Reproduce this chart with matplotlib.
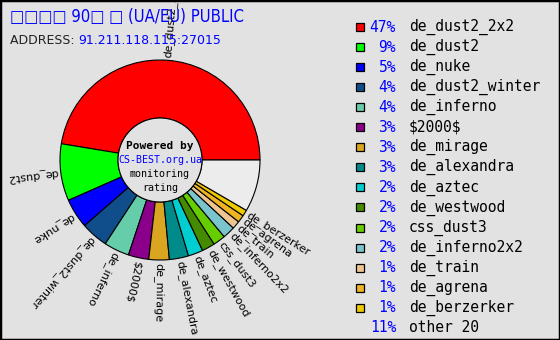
import matplotlib
matplotlib.use("Agg")
import numpy as np
import matplotlib.pyplot as plt
from matplotlib.patches import Circle, Rectangle

# map names, shown percent (floored) and the real share used for the wedges
maps = ["de_dust2_2x2", "de_dust2", "de_nuke", "de_dust2_winter", "de_inferno",
        "$2000$", "de_mirage", "de_alexandra", "de_aztec", "de_westwood",
        "css_dust3", "de_inferno2x2", "de_train", "de_agrena", "de_berzerker",
        "other 20"]
pct_labels = ["47%", "9%", "5%", "4%", "4%", "3%", "3%", "3%", "2%", "2%",
              "2%", "2%", "1%", "1%", "1%", "11%"]
shares = [47.4, 9.2, 4.8, 4.4, 4.1, 3.3, 3.3, 3.1, 2.4, 2.1,
          2.0, 2.0, 1.3, 1.2, 1.0, 8.4]
colors = ["#ff0000", "#00ff00", "#0000ff", "#104e8b", "#66cdaa",
          "#8b008b", "#daa520", "#008b8b", "#00ced1", "#458b00",
          "#66cd00", "#7ac5cd", "#eec591", "#eeb422", "#eec900",
          "#ececec"]

title = "\u25a1\u25a1\u25a1\u25a1 90\u25a1 \u25a1 (UA/EU) PUBLIC"
address = "91.211.118.115:27015"

bg = "#e2e2e2"
fig = plt.figure(figsize=(5.6, 3.4), dpi=100, facecolor=bg)
ax = fig.add_axes([0, 0, 1, 1])
ax.set_facecolor(bg)

cx, cy, r_out, r_in = 160, 160, 100, 42

wedges, _ = ax.pie(shares, colors=colors, startangle=0, counterclock=False,
                   radius=r_out, center=(cx, cy), frame=True,
                   wedgeprops=dict(width=r_out - r_in, edgecolor="black", linewidth=0.8))
ax.add_patch(Circle((cx, cy), r_in, facecolor=bg, edgecolor="black", lw=0.8, zorder=5))

ax.set_xlim(0, 560)
ax.set_ylim(340, 0)
ax.set_aspect("auto")
ax.axis("off")

# radial labels (y axis is inverted, so visual angle = -data angle)
for w, name in zip(wedges[:-1], maps[:-1]):
    mid = (w.theta1 + w.theta2) / 2
    x = cx + (r_out + 3) * np.cos(np.radians(mid))
    y = cy + (r_out + 3) * np.sin(np.radians(mid))
    ax.text(x, y, name, rotation=-mid, rotation_mode="anchor", ha="left", va="center",
            fontsize=8, family="DejaVu Sans", color="black", clip_on=False,
            parse_math=False)

# center text
ax.text(cx, 146, "Powered by", ha="center", va="center", fontsize=8,
        family="DejaVu Sans Mono", fontweight="bold", zorder=6)
ax.text(cx, 160, "CS-BEST.org.ua", ha="center", va="center", fontsize=7.2,
        family="DejaVu Sans Mono", color="#0000ff", zorder=6)
ax.text(cx, 174, "monitoring", ha="center", va="center", fontsize=7.2,
        family="DejaVu Sans Mono", zorder=6)
ax.text(cx, 188, "rating", ha="center", va="center", fontsize=7.2,
        family="DejaVu Sans Mono", zorder=6)

# header
ax.text(10, 17, title, ha="left", va="center", fontsize=12, color="#0000ff",
        family=["DejaVu Sans", "DejaVu Sans Mono"], fontstretch="condensed")
t = ax.text(10, 40, "ADDRESS: ", ha="left", va="center", fontsize=9,
            family="DejaVu Sans", color="#202020")
ax.annotate(address, xy=(1, 0.5), xycoords=t, ha="left", va="center",
            fontsize=9, family="DejaVu Sans", color="#0000ff")

# legend
for i, (name, pct, col) in enumerate(zip(maps, pct_labels, colors)):
    y = 27 + 20.05 * i
    if i < len(maps) - 1:
        ax.add_patch(Rectangle((355.5, y - 4), 8, 8, facecolor=col,
                               edgecolor="black", lw=0.9, clip_on=False))
    ax.text(396, y, pct, ha="right", va="center", fontsize=10.5,
            family="DejaVu Sans Mono", color="#0000ff")
    ax.text(409, y, name, ha="left", va="center", fontsize=10.5,
            family="DejaVu Sans Mono", color="black", parse_math=False)

# outer frame
fig.patches.append(Rectangle((0, 0), 1, 1, transform=fig.transFigure, fill=False,
                             edgecolor="black", lw=2.5))

fig.savefig("out.png", dpi=100, facecolor=bg)
